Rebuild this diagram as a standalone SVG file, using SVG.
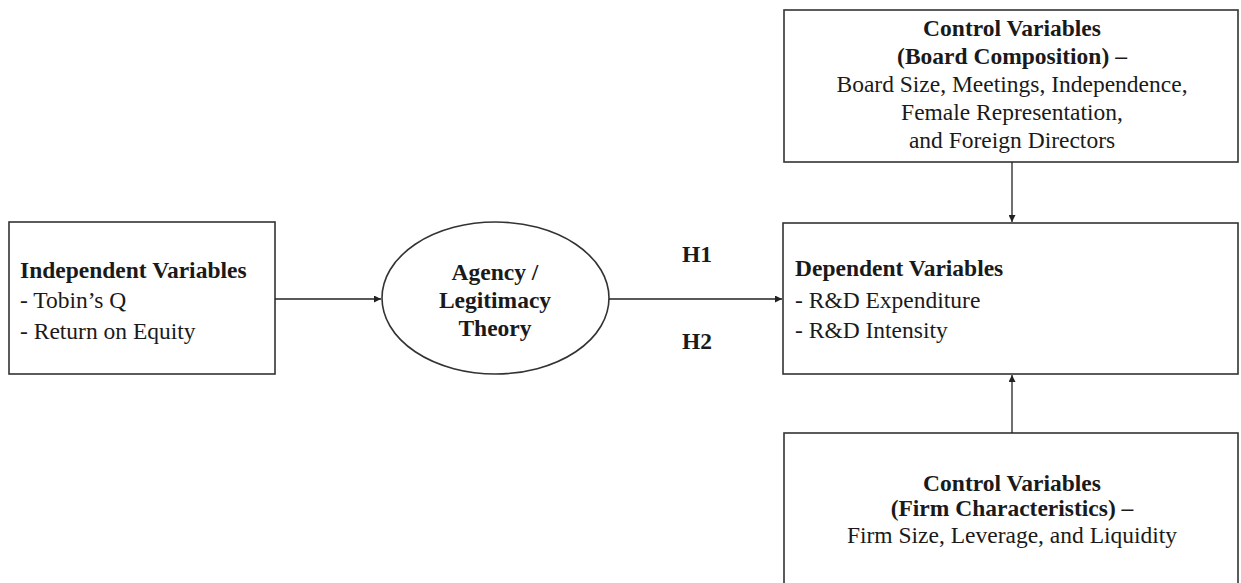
<svg xmlns="http://www.w3.org/2000/svg" width="1241" height="583" viewBox="0 0 1241 583">
<defs>
<marker id="ah" viewBox="0 0 10 10" refX="10" refY="5" markerWidth="7" markerHeight="7" markerUnits="userSpaceOnUse" orient="auto">
<path d="M0,0 L10,5 L0,10 z" fill="#222"/>
</marker>
<style>
.box{fill:#fff;stroke:#333;stroke-width:1.6}
.t{font-family:"Liberation Serif","Times New Roman",serif;font-size:23.5px;fill:#1a1a1a}
.b{font-weight:bold}
.c{text-anchor:middle}
.ln{stroke:#222;stroke-width:1.3;fill:none;marker-end:url(#ah)}
</style>
</defs>
<rect width="1241" height="583" fill="#fff"/>
<g id="independent">
<rect class="box" x="9" y="222" width="266" height="152"/>
<text class="t b" x="20" y="278">Independent Variables</text>
<text class="t" x="20" y="308">- Tobin’s Q</text>
<text class="t" x="20" y="339">- Return on Equity</text>
</g>
<g id="theory">
<ellipse class="box" cx="495.5" cy="298" rx="113.5" ry="76"/>
<text class="t b c" x="495" y="280">Agency /</text>
<text class="t b c" x="495" y="308">Legitimacy</text>
<text class="t b c" x="495" y="336">Theory</text>
</g>
<g id="dependent">
<rect class="box" x="783" y="223" width="455" height="151"/>
<text class="t b" x="795" y="276">Dependent Variables</text>
<text class="t" x="795" y="308">- R&amp;D Expenditure</text>
<text class="t" x="795" y="338">- R&amp;D Intensity</text>
</g>
<g id="control-board">
<rect class="box" x="784" y="10" width="454" height="152"/>
<text class="t b c" x="1012" y="36">Control Variables</text>
<text class="t b c" x="1012" y="64">(Board Composition) –</text>
<text class="t c" x="1012" y="92">Board Size, Meetings, Independence,</text>
<text class="t c" x="1012" y="120">Female Representation,</text>
<text class="t c" x="1012" y="148">and Foreign Directors</text>
</g>
<g id="control-firm">
<rect class="box" x="784" y="433" width="454" height="170"/>
<text class="t b c" x="1012" y="491">Control Variables</text>
<text class="t b c" x="1012" y="516">(Firm Characteristics) –</text>
<text class="t c" x="1012" y="543">Firm Size, Leverage, and Liquidity</text>
</g>
<g id="connectors">
<line class="ln" x1="275" y1="299" x2="381" y2="299"/>
<line class="ln" x1="609" y1="299" x2="782" y2="299"/>
<line class="ln" x1="1012" y1="162" x2="1012" y2="222"/>
<line class="ln" x1="1012" y1="433" x2="1012" y2="375"/>
<text class="t b c" x="697" y="262">H1</text>
<text class="t b c" x="697" y="349">H2</text>
</g>
</svg>
